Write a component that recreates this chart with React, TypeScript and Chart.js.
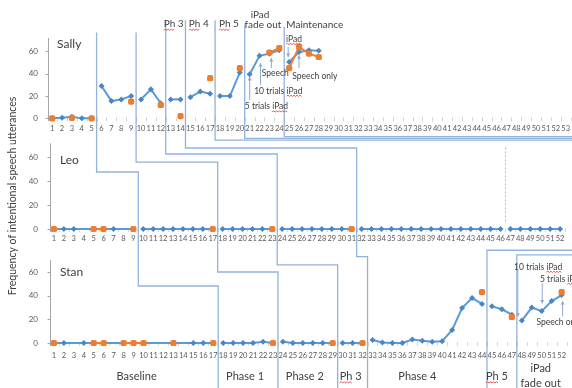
import { useEffect, useRef } from 'react';
import { Chart, registerables } from 'chart.js';

Chart.register(...registerables);

// ---------------- data ----------------
const sallySessions = [1, 2, 3, 4, 5, 6, 7, 8, 9, 10, 11, 12, 13, 14, 15, 16, 17, 18, 19, 20, 21, 22, 23, 24, 25, 26, 27, 28];
const sallyBlue = [0, 0.5, 1.5, 0, 0, 29, 15.5, 17, 20, 17, 26, 13.5, 17, 17, 19, 24, 22, 20, 20, 41, 39.5, 56, 58, 61, 50.5, 59.5, 61, 60.5];
const sallyOrange = [0, null, 0.5, null, 0, null, null, null, 15, null, null, 12, null, 2, null, null, 36, null, null, 45, null, null, 59, 63, 45, 64, 58, 55];

const leoSessions = [1, 2, 3, 4, 5, 6, 7, 8, 9, 10, 11, 12, 13, 14, 15, 16, 17, 18, 19, 20, 21, 22, 23, 24, 25, 26, 27, 28, 29, 30, 31, 32, 33, 34, 35, 36, 37, 38, 39, 40, 41, 42, 43, 44, 45, 46, 47, 48, 49, 50, 51, 52];
const leoBlue = [0, 0, 0, null, 0, 0, 0, null, 0, 0, 0, 0, 0, 0, 0, 0, 0, 0, 0, 0, 0, 0, 0, 0, 0, 0, 0, 0, 0, 0, 0, 0, 0, 0, 0, 0, 0, 0, 0, 0, 0, 0, 0, 0, 0, 0, 0, 0, 0, 0, 0, 0];
const leoOrange = [0, null, null, null, 0, 0, null, null, 0, null, null, null, null, null, null, null, 0, null, null, null, null, null, 0, null, null, null, null, null, null, null, 0, null, null, null, null, null, null, null, null, null, null, null, null, null, null, null, null, null, null, null, null, null];

const stanSessions = [1, 2, 3, 4, 5, 6, 7, 8, 9, 10, 11, 12, 13, 14, 15, 16, 17, 18, 19, 20, 21, 22, 23, 24, 25, 26, 27, 28, 29, 30, 31, 32, 33, 34, 35, 36, 37, 38, 39, 40, 41, 42, 43, 44, 45, 46, 47, 48, 49, 50, 51, 52];
const stanBlue = [0, 0, null, 0, 0, 0, null, 0, 0, 0, null, null, 0, null, 0, 0, 0, 0, 0, 0, 0, 1, 0, 1, 0, 0, 0, 0, 0, 0, 0, 0, 2.5, 0.5, 0, 0, 3, 2, 1, 1.5, 11, 29.5, 38, 33, 31, 28.5, 24, 19, 30, 27, 35.5, 40.5];
const stanOrange = [0, null, null, null, 0, 0, null, 0, 0, 0, null, null, 0, null, null, null, 0, null, null, null, null, null, 0, null, null, null, null, null, 0, null, null, 0, null, null, null, null, null, null, null, null, null, null, null, 43, null, null, 22, null, null, null, null, 43];

// first session of each new phase
const sallyPhaseStarts = [6, 10, 13, 15, 18, 21, 25];
const leoPhaseStarts = [10, 18, 24, 32, 47];
const stanPhaseStarts = [18, 24, 30, 33, 45, 48];

// tick labels
const sallyTicks = [1, 2, 3, 4, 5, 6, 7, 8, 9, 10, 11, 12, 13, 14, 15, 16, 17, 18, 19, 20, 21, 22, 23, 24, 25, 26, 27, 28, 29, 30, 31, 32, 33, 34, 35, 36, 37, 38, 39, 40, 41, 42, 43, 44, 45, 46, 47, 48, 49, 50, 51, 52, 53];
const leoTicks = [1, 2, 3, 4, 5, 6, 7, 8, 9, 10, 11, 12, 13, 14, 15, 16, 17, 18, 19, 20, 21, 22, 23, 24, 25, 26, 27, 28, 29, 30, 31, 32, 33, 34, 35, 36, 37, 38, 39, 40, 41, 42, 43, 44, 45, 46, 47, 48, 49, 50, 51, 52];
const stanTicks = [1, 2, 3, 4, 5, 6, 7, 8, 9, 10, 11, 12, 13, 14, 15, 16, 17, 18, 19, 20, 21, 22, 23, 24, 25, 26, 27, 28, 29, 30, 31, 32, 33, 34, 35, 36, 37, 38, 39, 40, 41, 42, 43, 44, 45, 46, 47, 48, 49, 50, 51, 52];
const yTickValues = [0, 20, 40, 60];

const participantNames = ['Sally', 'Leo', 'Stan'];
const yTitle = 'Frequency of intentional speech utterances';

// phase-change step lines (session boundaries in Sally, Leo, Stan; null = runs off to the right)
const stepSally = [5.5, 9.5, 12.5, 14.5, 17.5, 20.5, 24.5];
const stepSallyTop = [77, 77, 88, 88, 88, 84, 82];
const stepLeo = [9.5, 17.5, 23.5, 31.5, null, null, null];
const stepLeoJog = [47.5, 55.8, 62.5, 67.5, 74, 75.6, 77];
const stepStan = [17.5, 23.5, 29.5, 32.5, 44.5, 47.5, null];
const stepStanJog = [48.2, 60, 66, 73, 78.4, 74.4, null];
const leoDotted = 46.5;

// phase names under Stan's axis
const phaseNames = ['Baseline', 'Phase 1', 'Phase 2', 'Ph 3', 'Phase 4', 'Ph 5'];
const phaseNameSessions = [9.3, 20.2, 26.2, 30.8, 37.5, 45.5];
const fadeNameSession = 49.9;

// annotations (session, value)
const sallyHeadText = ['Ph 3', 'Ph 4', 'Ph 5', 'iPad', 'fade out', 'Maintenance'];
const sallyHeadX = [13.3, 15.85, 18.9, 22.05, 22.35, 27.6];
const sallyHeadY = [84.5, 84.5, 84.5, 93, 84, 84];
const sallyNoteText = ['iPad', 'Speech', 'Speech only', '10 trials iPad', '5 trials iPad'];
const sallyNoteX = [25.5, 23.6, 27.6, 23.9, 22.7];
const sallyNoteY = [71, 40, 37.5, 24.5, 10.5];
const sallyArrows = [[23.2, 45, 54], [26, 45, 56.5], [22.1, 30, 49.5], [21, 16.5, 37], [24.9, 64, 55]];
const stanNoteText = ['10 trials iPad', '5 trials iPad', 'Speech only'];
const stanNoteX = [49.65, 52.0, 51.75];
const stanNoteY = [64.2, 54, 17.7];
const stanArrows = [[47.6, 61.5, 22.5], [50.05, 50.5, 33.5], [52.1, 22.5, 35.5]];

// ---------------- styles ----------------
const FONT = 'Lato, "Open Sans", sans-serif';
const BLUE = '#5b9bd5';
const BLUE_MARK = '#4a86c5';
const ORANGE = '#ed7d31';
const STEP = 'rgba(128,166,214,0.85)';
const TEXT = '#404040';
const TICK = '#595959';

const pts = (s: number[], v: (number | null)[]) => s.map((x, i) => ({ x, y: v[i] }));
const breakAt = (starts: number[]) => (c: any) => {
  const a = c.p0.parsed.x, b = c.p1.parsed.x;
  return starts.some((s) => a < s && s <= b) ? 'rgba(0,0,0,0)' : undefined;
};

function blueSet(s: number[], v: (number | null)[], starts: number[], xId: string, yId: string) {
  return {
    type: 'line', data: pts(s, v), xAxisID: xId, yAxisID: yId,
    borderColor: BLUE, borderWidth: 2, tension: 0, spanGaps: true,
    pointStyle: 'rectRot', pointRadius: 3, pointBorderWidth: 0,
    pointBackgroundColor: BLUE_MARK, pointBorderColor: BLUE_MARK,
    segment: { borderColor: breakAt(starts) }, order: 2,
  };
}
function orangeSet(s: number[], v: (number | null)[], starts: number[], xId: string, yId: string) {
  return {
    type: 'line', data: pts(s, v), xAxisID: xId, yAxisID: yId,
    borderColor: ORANGE, borderWidth: 2, tension: 0, spanGaps: false,
    pointStyle: 'rectRounded', pointRadius: 3.6, pointBorderWidth: 0,
    pointBackgroundColor: ORANGE, pointBorderColor: ORANGE,
    segment: { borderColor: breakAt(starts) }, order: 1,
  };
}

function squiggle(ctx: CanvasRenderingContext2D, x0: number, x1: number, y: number) {
  ctx.save();
  ctx.strokeStyle = '#e03030';
  ctx.lineWidth = 0.8;
  ctx.beginPath();
  let up = true;
  ctx.moveTo(x0, y);
  for (let x = x0 + 1.5; x <= x1; x += 1.5) {
    ctx.lineTo(x, up ? y - 0.9 : y + 0.3);
    up = !up;
  }
  ctx.stroke();
  ctx.restore();
}

function label(ctx: CanvasRenderingContext2D, str: string, x: number, y: number, size: number, mark = '') {
  ctx.font = `${size}px ${FONT}`;
  ctx.fillStyle = TEXT;
  ctx.textAlign = 'center';
  ctx.textBaseline = 'middle';
  ctx.fillText(str, x, y);
  if (mark) {
    const w = ctx.measureText(str).width;
    const idx = str.indexOf(mark);
    const pre = ctx.measureText(str.slice(0, idx)).width;
    const mw = ctx.measureText(mark).width;
    const x0 = x - w / 2 + pre;
    squiggle(ctx, x0, x0 + mw, y + size * 0.6);
  }
}

function arrow(ctx: CanvasRenderingContext2D, x: number, yFrom: number, yTo: number) {
  ctx.save();
  ctx.strokeStyle = '#8fa9cc';
  ctx.fillStyle = '#8fa9cc';
  ctx.lineWidth = 1;
  ctx.beginPath();
  ctx.moveTo(x, yFrom);
  ctx.lineTo(x, yTo);
  ctx.stroke();
  const d = yTo > yFrom ? 1 : -1;
  ctx.beginPath();
  ctx.moveTo(x, yTo);
  ctx.lineTo(x - 2, yTo - d * 3.5);
  ctx.lineTo(x + 2, yTo - d * 3.5);
  ctx.closePath();
  ctx.fill();
  ctx.restore();
}

const overlayPlugin = {
  id: 'overlay',
  beforeDatasetsDraw(chart: any) {
    const { ctx, scales } = chart;
    const { xS, xL, x: xT, yS, yL, yT } = scales;
    const right = chart.width;
    const bottom = chart.height;
    ctx.save();

    // faint minor ticks along the zero lines
    ctx.strokeStyle = '#d6d6d6';
    ctx.lineWidth = 1;
    const marks = (xs: any, ys: any, ticks: number[]) => {
      const y0 = ys.getPixelForValue(0);
      ticks.forEach((t) => {
        const p = Math.round(xs.getPixelForValue(t + 0.5)) + 0.5;
        ctx.beginPath();
        ctx.moveTo(p, y0 - 1);
        ctx.lineTo(p, y0 + 3);
        ctx.stroke();
      });
    };
    marks(xS, yS, sallyTicks);
    marks(xL, yL, leoTicks);
    marks(xT, yT, stanTicks);

    // y axis lines + tick marks
    ctx.strokeStyle = '#a6a6a6';
    const axes: [any, any, number][] = [[xS, yS, 72], [xL, yL, 71.5], [xT, yT, 70.2]];
    axes.forEach(([xs, ys, top]) => {
      const ax = Math.round(xs.getPixelForValue(0.6)) + 0.5;
      ctx.beginPath();
      ctx.moveTo(ax, ys.getPixelForValue(top));
      ctx.lineTo(ax, ys.getPixelForValue(-2.5));
      ctx.stroke();
      yTickValues.forEach((v) => {
        const py = Math.round(ys.getPixelForValue(v)) + 0.5;
        ctx.beginPath();
        ctx.moveTo(ax - 3, py);
        ctx.lineTo(ax, py);
        ctx.stroke();
      });
    });

    // phase change step lines
    ctx.strokeStyle = STEP;
    ctx.lineWidth = 1.3;
    for (let i = 0; i < stepSally.length; i++) {
      const sx = xS.getPixelForValue(stepSally[i]);
      const ly = yL.getPixelForValue(stepLeoJog[i]);
      ctx.beginPath();
      ctx.moveTo(sx, yS.getPixelForValue(stepSallyTop[i]));
      ctx.lineTo(sx, ly);
      const leo = stepLeo[i];
      const stan = stepStan[i];
      const sj = stepStanJog[i];
      if (leo != null && stan != null && sj != null) {
        const lx = xL.getPixelForValue(leo);
        const ty = yT.getPixelForValue(sj);
        const tx = xT.getPixelForValue(stan);
        ctx.lineTo(lx, ly);
        ctx.lineTo(lx, ty);
        ctx.lineTo(tx, ty);
        ctx.lineTo(tx, bottom);
      } else {
        ctx.lineTo(right, ly);
        if (stan != null && sj != null) {
          const ty = yT.getPixelForValue(sj);
          const tx = xT.getPixelForValue(stan);
          ctx.moveTo(right, ty);
          ctx.lineTo(tx, ty);
          ctx.lineTo(tx, bottom);
        }
      }
      ctx.stroke();
    }
    // Leo dotted marker line
    ctx.setLineDash([2, 2]);
    ctx.strokeStyle = '#b8b8b8';
    ctx.lineWidth = 1;
    const dx = Math.round(xL.getPixelForValue(leoDotted)) + 0.5;
    ctx.beginPath();
    ctx.moveTo(dx, yL.getPixelForValue(68));
    ctx.lineTo(dx, yL.getPixelForValue(5));
    ctx.stroke();
    ctx.setLineDash([]);
    ctx.restore();
  },
  afterDraw(chart: any) {
    const { ctx, scales } = chart;
    const { xS, xL, x: xT, yS, yL, yT } = scales;
    ctx.save();

    // x tick labels for Sally and Leo rows
    ctx.font = `7.5px ${FONT}`;
    ctx.fillStyle = TICK;
    ctx.textAlign = 'center';
    ctx.textBaseline = 'middle';
    const sy = yS.getPixelForValue(0) + 10;
    sallyTicks.forEach((t) => ctx.fillText(String(t), xS.getPixelForValue(t), sy));
    const ly = yL.getPixelForValue(0) + 9.5;
    leoTicks.forEach((t) => ctx.fillText(String(t), xL.getPixelForValue(t), ly));

    // participant names
    ctx.font = `12px ${FONT}`;
    ctx.fillStyle = TEXT;
    ctx.textAlign = 'left';
    ctx.fillText(participantNames[0], xS.getPixelForValue(1.5), yS.getPixelForValue(66.6));
    ctx.fillText(participantNames[1], xL.getPixelForValue(1.6), yL.getPixelForValue(57.5));
    ctx.fillText(participantNames[2], xT.getPixelForValue(1.6), yT.getPixelForValue(60));

    // y title
    ctx.save();
    ctx.translate(13, 196);
    ctx.rotate(-Math.PI / 2);
    ctx.font = `10.5px ${FONT}`;
    ctx.textAlign = 'center';
    ctx.fillText(yTitle, 0, 0);
    ctx.restore();

    // Sally header labels
    sallyHeadText.forEach((t, i) =>
      label(ctx, t, xS.getPixelForValue(sallyHeadX[i]), yS.getPixelForValue(sallyHeadY[i]), 10, t.startsWith('Ph') ? 'Ph' : ''));
    sallyNoteText.forEach((t, i) =>
      label(ctx, t, xS.getPixelForValue(sallyNoteX[i]), yS.getPixelForValue(sallyNoteY[i]), 8.5, t.includes('iPad') ? 'iPad' : ''));
    sallyArrows.forEach(([s, a, b]) => arrow(ctx, xS.getPixelForValue(s), yS.getPixelForValue(a), yS.getPixelForValue(b)));

    stanNoteText.forEach((t, i) =>
      label(ctx, t, xT.getPixelForValue(stanNoteX[i]), yT.getPixelForValue(stanNoteY[i]), 8.5, t.includes('iPad') ? 'iPad' : ''));
    stanArrows.forEach(([s, a, b]) => arrow(ctx, xT.getPixelForValue(s), yT.getPixelForValue(a), yT.getPixelForValue(b)));

    // phase names under the bottom axis
    const base = yT.getPixelForValue(0);
    phaseNames.forEach((t, i) =>
      label(ctx, t, xT.getPixelForValue(phaseNameSessions[i]), base + 33, 11, t.startsWith('Ph ') ? 'Ph' : ''));
    label(ctx, 'iPad', xT.getPixelForValue(fadeNameSession), base + 25, 11);
    label(ctx, 'fade out', xT.getPixelForValue(fadeNameSession), base + 40, 11);

    ctx.restore();
  },
};

function yScale(min: number, max: number, weight: number, order: number) {
  return {
    type: 'linear', position: 'left', stack: 'panels', stackWeight: weight, weight: order,
    min, max,
    afterBuildTicks: (s: any) => { s.ticks = yTickValues.map((v) => ({ value: v })); },
    afterFit: (s: any) => { s.width = 47; },
    grid: { display: false, drawTicks: false },
    border: { display: false },
    ticks: { padding: 9, color: TICK, font: { family: FONT, size: 8 } },
  };
}

export default function App() {
  const ref = useRef<HTMLCanvasElement>(null);
  useEffect(() => {
    if (!ref.current) return;
    const chart = new Chart(ref.current, {
      type: 'line',
      data: {
        datasets: [
          blueSet(sallySessions, sallyBlue, sallyPhaseStarts, 'xS', 'yS'),
          orangeSet(sallySessions, sallyOrange, sallyPhaseStarts, 'xS', 'yS'),
          blueSet(leoSessions, leoBlue, leoPhaseStarts, 'xL', 'yL'),
          orangeSet(leoSessions, leoOrange, leoPhaseStarts, 'xL', 'yL'),
          blueSet(stanSessions, stanBlue, stanPhaseStarts, 'x', 'yT'),
          orangeSet(stanSessions, stanOrange, stanPhaseStarts, 'x', 'yT'),
        ] as any,
      },
      options: {
        responsive: false,
        animation: false,
        devicePixelRatio: 1,
        layout: { padding: { top: 38, left: 0, right: 0, bottom: 0 } },
        plugins: { legend: { display: false }, tooltip: { enabled: false } },
        scales: {
          xS: { type: 'linear', display: false, min: 0.477, max: 53.24 },
          xL: { type: 'linear', display: false, min: 0.3, max: 52.8 },
          x: {
            type: 'linear', position: 'bottom', min: 0.302, max: 52.64,
            afterBuildTicks: (s: any) => { s.ticks = stanTicks.map((v) => ({ value: v })); },
            afterFit: (s: any) => { s.height = 42; },
            grid: { display: false, drawTicks: true, tickLength: 5 },
            border: { display: false },
            ticks: { padding: 0, autoSkip: false, maxRotation: 0, minRotation: 0, color: TICK, font: { family: FONT, size: 7.5 } },
          },
          yS: yScale(-15.8, 72, 98, 3),
          yL: yScale(-17.5, 77.5, 114, 2),
          yT: yScale(-2.5, 78.6, 96, 1),
        } as any,
      },
      plugins: [overlayPlugin],
    } as any);
    return () => chart.destroy();
  }, []);
  return (
    <div style={{ position: 'fixed', left: 0, top: 0, width: 572, height: 388, background: '#fff' }}>
      <canvas ref={ref} width={572} height={388} style={{ display: 'block', width: 572, height: 388 }} />
    </div>
  );
}
